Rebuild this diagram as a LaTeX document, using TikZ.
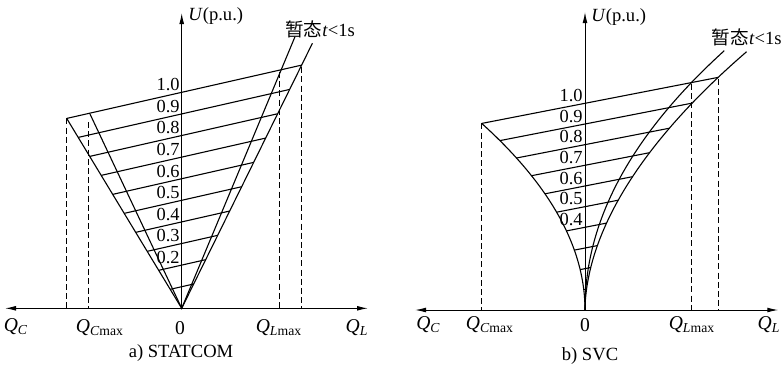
\documentclass[tikz,border=0pt]{standalone}
\usepackage{fontspec}
\setmainfont{Liberation Serif}
\newfontfamily\cjkfont{Noto Sans CJK SC}
\usetikzlibrary{arrows.meta,calc}
\tikzset{
  axis/.style={line width=0.5pt,-{Latex[length=5.5pt,width=2.4pt]}},
  axisboth/.style={line width=0.5pt,{Latex[length=5.5pt,width=2.4pt]}-{Latex[length=5.5pt,width=2.4pt]}},
  curve/.style={line width=0.55pt},
  dropline/.style={line width=0.5pt,dash pattern=on 3pt off 1.6pt},
  lbl/.style={font=\fontsize{9.3}{10}\selectfont,inner sep=0.5pt},
  qlbl/.style={font=\fontsize{9.8}{11}\selectfont,inner sep=0.5pt},
  tag/.style={font=\fontsize{9.2}{10}\selectfont,inner sep=0.5pt,anchor=south east},
}
\newcommand{\qsub}[1]{\textit{Q}\textsubscript{#1}}
\begin{document}
\begin{tikzpicture}[x=0.5pt,y=-0.5pt]
  \useasboundingbox (0,0) rectangle (784,372);

  % a) STATCOM
  \coordinate (Oa) at (181.7,308.3);
  \coordinate (CLa) at (66.7,118.4);
  \coordinate (CRa) at (301.6,65.1);
  \coordinate (ILa) at (90,114);
  \coordinate (IRa) at (295,36.7);
  \coordinate (TRa) at (312.4,43.3);
  \coordinate (XLa) at (279.3,72);
  \coordinate (DCa) at (88.5,122);
  \draw[axis] (Oa) -- (181.7,13) coordinate (Ua);
  \draw[axisboth] (5,308.3) coordinate (QCa) -- (368,308.3) coordinate (QLa);
  \draw[curve] (CLa) -- (Oa) -- (TRa);
  \draw[curve] (ILa) -- (Oa) -- (IRa);
  \foreach \v in {0.1,0.2,...,1.0}
    \draw[curve] ($(Oa)!\v!(CLa)$) -- ($(Oa)!\v!(CRa)$);
  \foreach \v/\t in {1.0/1.0,0.9/0.9,0.8/0.8,0.7/0.7,0.6/0.6,0.5/0.5,0.4/0.4,0.3/0.3,0.2/0.2}
    \node[tag] at (181,{308.3-216*\v}) {\t};
  \draw[dropline] (CLa) -- (CLa |- Oa);
  \draw[dropline] (DCa) -- (DCa |- Oa);
  \draw[dropline] (XLa) -- (XLa |- Oa);
  \draw[dropline] ($(CRa)+(0,2)$) -- (CRa |- Oa);
  \node[lbl,anchor=west] (ua) at (187,16) {\textit{U}(p.u.)};
  \node[lbl] (ta) at (320,29) {{\cjkfont 暂态}\textit{t}<1s};
  \node[qlbl] (qca) at (16,327) {\qsub{\textit{C}}};
  \node[qlbl] (qcma) at (100,328) {\qsub{\textit{C}max}};
  \node[qlbl] (za) at (180,328) {0};
  \node[qlbl] (qlma) at (279,328) {\qsub{\textit{L}max}};
  \node[qlbl] (qla) at (357,328) {\qsub{\textit{L}}};
  \node[lbl] (capa) at (181,353) {a) STATCOM};

  % b) SVC
  \coordinate (Ob) at (585,310);
  \coordinate (CLb) at (481.8,123.4);
  \coordinate (CRb) at (718,77.4);
  \coordinate (XLb) at (691.5,84);
  \draw[axis] (Ob) -- (585,12) coordinate (Ub);
  \draw[axisboth] (415,310) coordinate (QCb) -- (778.3,310) coordinate (QLb);
  \draw[curve] plot[domain=0:0.9026,samples=40,smooth] ({585-126.7*\x*\x},{310-206.7*\x});
  \draw[curve] (Ob) -- plot[domain=0.02:1.255,samples=40,smooth] ({585+87.5*pow(\x,2.05)},{310-206.7*\x});
  \draw[curve] (Ob) -- plot[domain=0.02:1.25,samples=40,smooth] ({585+107*pow(\x,1.85)},{310-206.7*\x});
  \foreach \xl/\yl/\xr/\yr in {481.8/123.4/718.0/77.4, 499.9/140.6/692.2/103.1,
      516.5/158.0/669.4/128.2, 531.5/175.7/649.5/152.7, 545.0/193.8/632.4/176.7,
      556.6/212.2/618.2/200.2, 566.5/230.9/606.5/223.1, 574.3/250.1/597.4/245.6,
      580.2/269.6/590.7/267.5, 583.8/289.6/586.5/289.0}
    \draw[curve] (\xl,\yl) -- (\xr,\yr);
  \foreach \v/\t in {1.0/1.0,0.9/0.9,0.8/0.8,0.7/0.7,0.6/0.6,0.5/0.5,0.4/0.4}
    \node[tag] at (584,{310-206.7*\v}) {\t};
  \draw[dropline] (CLb) -- (CLb |- Ob);
  \draw[dropline] (XLb) -- (XLb |- Ob);
  \draw[dropline] ($(CRb)+(0,2)$) -- (CRb |- Ob);
  \node[lbl,anchor=west] (ub) at (590,17.5) {\textit{U}(p.u.)};
  \node[lbl] (tb) at (746.7,37.5) {{\cjkfont 暂态}\textit{t}<1s};
  \node[qlbl] (qcb) at (428.5,325) {\qsub{\textit{C}}};
  \node[qlbl] (qcmb) at (490,325) {\qsub{\textit{C}max}};
  \node[qlbl] (zb) at (585,325) {0};
  \node[qlbl] (qlmb) at (692,325) {\qsub{\textit{L}max}};
  \node[qlbl] (qlb) at (769,325) {\qsub{\textit{L}}};
  \node[lbl] (capb) at (590,356) {b) SVC};
\end{tikzpicture}
\end{document}
